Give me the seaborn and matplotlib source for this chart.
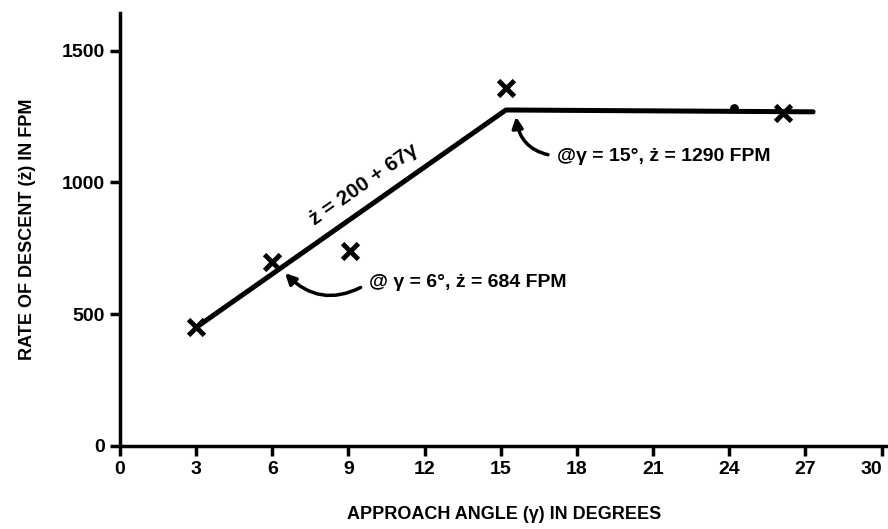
import matplotlib
matplotlib.use('Agg')
import matplotlib.pyplot as plt
import seaborn as sns
import pandas as pd

# fitted curve (break point near 15 deg)
line_angle = [3, 15.2, 27.3]
line_rate = [450, 1275, 1268]

# measured points (x marks)
pt_angle = [3, 6, 9.05, 15.2, 26.1]
pt_rate = [450, 700, 740, 1357, 1265]

dot_angle = [24.2]
dot_rate = [1283]

xticks = [0, 3, 6, 9, 12, 15, 18, 21, 24, 27, 30]
yticks = [0, 500, 1000, 1500]

sns.set_style('white')
plt.rcParams['font.family'] = ['Liberation Sans', 'DejaVu Sans']
plt.rcParams['font.weight'] = 'bold'
plt.rcParams['text.color'] = 'black'

linedf = pd.DataFrame({'angle': line_angle, 'rate': line_rate})
ptdf = pd.DataFrame({'angle': pt_angle, 'rate': pt_rate})
dotdf = pd.DataFrame({'angle': dot_angle, 'rate': dot_rate})

fig = plt.figure(figsize=(8.88, 5.29), dpi=100)
ax = fig.add_axes([120/888, 83/529, 768/888, 433/529])

sns.lineplot(data=linedf, x='angle', y='rate', color='black', linewidth=3.6, ax=ax, sort=False)
sns.scatterplot(data=ptdf, x='angle', y='rate', marker='x', s=130, color='black', linewidth=3.5, ax=ax, zorder=5)
sns.scatterplot(data=dotdf, x='angle', y='rate', marker='o', s=40, color='black', linewidth=0, ax=ax, zorder=5)

ax.set_xlim(0, 30.25)
ax.set_ylim(0, 1643)
ax.set_xticks(xticks)
ax.set_yticks(yticks)
ax.set_xticklabels([str(v) for v in xticks], fontsize=14, fontweight='bold')
ax.set_yticklabels([str(v) for v in yticks], fontsize=14, fontweight='bold')
ax.tick_params(axis='both', direction='out', length=7, width=2.5, color='black',
               labelcolor='black', pad=4)
ax.xaxis.set_ticks_position('bottom')
ax.yaxis.set_ticks_position('left')
# last label sits on the right edge
ax.get_xticklabels()[-1].set_ha('right')

for s in ['top', 'right']:
    ax.spines[s].set_visible(False)
for s in ['left', 'bottom']:
    ax.spines[s].set_linewidth(2.5)
    ax.spines[s].set_color('black')

ax.set_xlabel('APPROACH ANGLE (γ) IN DEGREES', fontsize=13, fontweight='bold',
              labelpad=20, color='black')
ax.set_ylabel('RATE OF DESCENT (ż) IN FPM', fontsize=13, fontweight='bold',
              labelpad=18, color='black')

ax.text(9.6, 990, 'ż = 200 + 67γ', rotation=35, rotation_mode='anchor',
        ha='center', va='center', fontsize=15, fontweight='bold')

ax.annotate('@ γ = 6°, ż = 684 FPM', xy=(6.5, 656), xytext=(9.8, 619),
            fontsize=14, fontweight='bold', va='center', ha='left',
            arrowprops=dict(arrowstyle='-|>', color='black', lw=2.5,
                            mutation_scale=16, connectionstyle='arc3,rad=-0.4',
                            relpos=(0, 0.5), shrinkA=4, shrinkB=0))
ax.annotate('@γ = 15°, ż = 1290 FPM', xy=(15.6, 1249), xytext=(17.2, 1100),
            fontsize=14, fontweight='bold', va='center', ha='left',
            arrowprops=dict(arrowstyle='-|>', color='black', lw=2.5,
                            mutation_scale=16, connectionstyle='arc3,rad=-0.4',
                            relpos=(0, 0.5), shrinkA=4, shrinkB=0))

plt.savefig('out.png', dpi=100)
plt.close()
